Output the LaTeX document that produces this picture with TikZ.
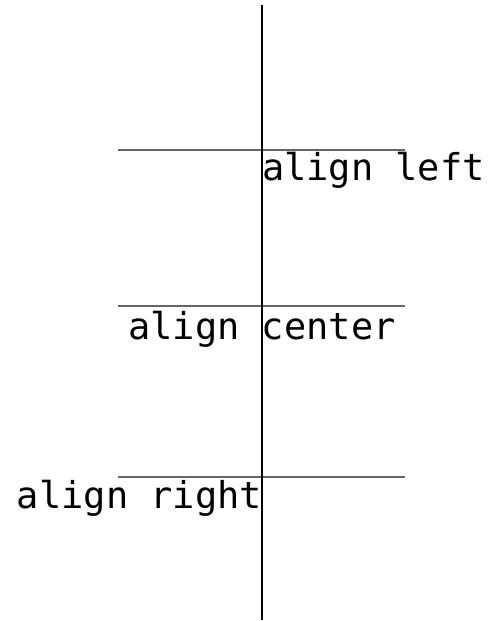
\documentclass[tikz,border=0pt]{standalone}
\usepackage{fontspec}
\setmonofont{DejaVu Sans Mono}
\usetikzlibrary{positioning}

\begin{document}
\begin{tikzpicture}[x=1pt,y=-1pt,font=\ttfamily\fontsize{37}{40}\selectfont,
  every node/.style={inner sep=0pt,outer sep=0pt},
  guide/.style={draw=black!60,line width=1.2pt},
  axisline/.style={draw=black,line width=1.4pt}]
\useasboundingbox (0,0) rectangle (491,621);
\def\ax{262}  % x of the vertical axis
\def\gl{118}  % left end of guides
\def\gr{405}  % right end of guides

% guide y/text top/name/anchor/text
\foreach \gy/\ty/\name/\anc/\txt in {%
  150/152/left/north west/{align left},
  306/311/center/north/{align center},
  477/480/right/north east/{align right}}
{
  \coordinate (gl\name) at (\gl,\gy);
  \coordinate (gr\name) at (\gr,\gy);
  \draw[guide] (gl\name) -- (gr\name);
  \node[anchor=\anc] (lbl\name) at (\ax,\ty) {\txt};
}

% axis
\coordinate (axtop) at (\ax,5);
\coordinate (axbot) at (\ax,620);
\draw[axisline] (axtop) -- (axbot);
\end{tikzpicture}
\end{document}
